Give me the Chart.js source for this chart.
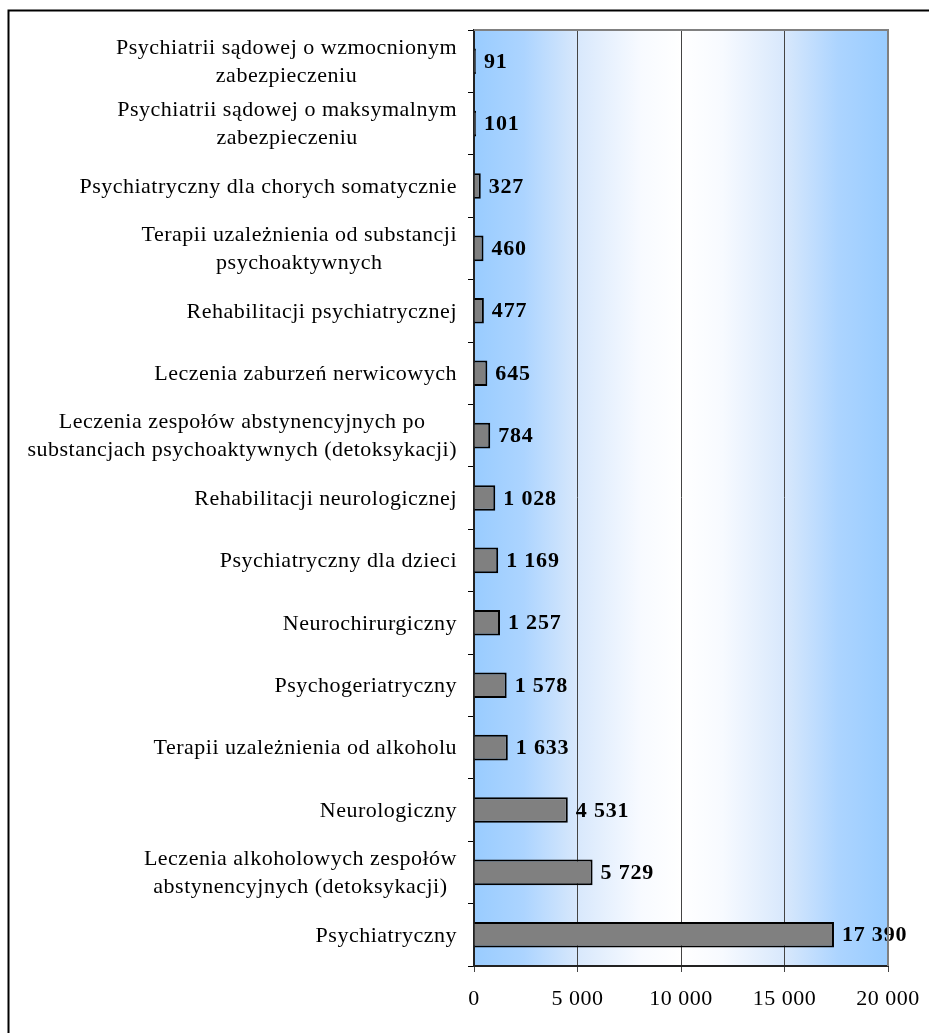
<!DOCTYPE html>
<html lang="pl">
<head>
<meta charset="utf-8">
<title>Oddziały - liczba łóżek</title>
<script src="https://cdn.jsdelivr.net/npm/chart.js@4/dist/chart.umd.min.js"></script>
<style>
    html, body { margin: 0; padding: 0; background: #fff; }
    canvas { display: block; }
</style>
</head>
<body>
<canvas id="oddzialyChart" width="929" height="1033"></canvas>
<script>
// kategorie (wiersze wieloliniowe jako tablice)
const categories = [
    ['Psychiatrii sądowej o wzmocnionym', 'zabezpieczeniu'],
    ['Psychiatrii sądowej o maksymalnym', 'zabezpieczeniu'],
    ['Psychiatryczny dla chorych somatycznie'],
    ['Terapii uzależnienia od substancji', 'psychoaktywnych'],
    ['Rehabilitacji psychiatrycznej'],
    ['Leczenia zaburzeń nerwicowych'],
    ['Leczenia zespołów abstynencyjnych po', 'substancjach psychoaktywnych (detoksykacji)'],
    ['Rehabilitacji neurologicznej'],
    ['Psychiatryczny dla dzieci'],
    ['Neurochirurgiczny'],
    ['Psychogeriatryczny'],
    ['Terapii uzależnienia od alkoholu'],
    ['Neurologiczny'],
    ['Leczenia alkoholowych zespołów', 'abstynencyjnych (detoksykacji)'],
    ['Psychiatryczny']
];
const values = [91, 101, 327, 460, 477, 645, 784, 1028, 1169, 1257, 1578, 1633, 4531, 5729, 17390];
const xTicks = [0, 5000, 10000, 15000, 20000];

const FONT = "'Liberation Serif', 'Times New Roman', serif";
const SPACING = '0.5px';

function formatNumber(v) {
    return String(v).replace(/\B(?=(\d{3})+(?!\d))/g, ' ');
}

const backgroundPlugin = {
    id: 'background',
    beforeDraw(chart) {
        const { ctx, chartArea: a, width, height } = chart;
        ctx.save();
        ctx.fillStyle = '#fff';
        ctx.fillRect(0, 0, width, height);
        ctx.strokeStyle = '#000';
        ctx.lineWidth = 2;
        ctx.strokeRect(8.5, 10.5, width + 20, height + 20);

        const g = ctx.createLinearGradient(a.left, 0, a.right, 0);
        g.addColorStop(0, '#99ccff');
        g.addColorStop(0.12, '#acd4ff');
        g.addColorStop(0.25, '#d8e8fc');
        g.addColorStop(0.4, '#f7faff');
        g.addColorStop(0.5, '#ffffff');
        g.addColorStop(0.6, '#f7faff');
        g.addColorStop(0.75, '#d8e8fc');
        g.addColorStop(0.88, '#acd4ff');
        g.addColorStop(1, '#99ccff');
        ctx.fillStyle = g;
        ctx.fillRect(a.left, a.top, a.right - a.left, a.bottom - a.top);
        ctx.restore();
        ctx.letterSpacing = SPACING;
    }
};

const labelsPlugin = {
    id: 'labels',
    afterDatasetsDraw(chart) {
        const { ctx } = chart;
        const meta = chart.getDatasetMeta(0);
        ctx.save();
        ctx.font = `bold 22px ${FONT}`;
        ctx.letterSpacing = '0.8px';
        ctx.fillStyle = '#000';
        ctx.textAlign = 'left';
        ctx.textBaseline = 'middle';
        meta.data.forEach((bar, i) => {
            ctx.fillText(formatNumber(values[i]), bar.x + 8, bar.y + 1);
        });
        ctx.restore();
    },
    afterDraw(chart) {
        const { ctx, chartArea: a } = chart;
        const yScale = chart.scales.y;

        // ramka obszaru wykresu (góra i prawa)
        ctx.save();
        ctx.strokeStyle = '#808080';
        ctx.lineWidth = 2;
        ctx.beginPath();
        ctx.moveTo(a.left, a.top);
        ctx.lineTo(a.right, a.top);
        ctx.lineTo(a.right, a.bottom);
        ctx.stroke();

        // etykiety kategorii: blok wyrównany do prawej, linie wyśrodkowane
        const right = a.left - 17;
        ctx.font = `22px ${FONT}`;
        ctx.letterSpacing = SPACING;
        ctx.fillStyle = '#000';
        ctx.textAlign = 'center';
        ctx.textBaseline = 'middle';
        categories.forEach((lines, i) => {
            const y = yScale.getPixelForTick(i) + 1;
            const widest = Math.max(...lines.map(l => ctx.measureText(l).width));
            const cx = right - widest / 2;
            lines.forEach((line, j) => {
                ctx.fillText(line, cx, y + (j - (lines.length - 1) / 2) * 28);
            });
        });
        ctx.restore();
    }
};

new Chart(document.getElementById('oddzialyChart'), {
    type: 'bar',
    data: {
        labels: categories,
        datasets: [{
            data: values,
            backgroundColor: '#808080',
            borderColor: '#000',
            borderWidth: 2,
            barPercentage: 0.41,
            categoryPercentage: 1
        }]
    },
    options: {
        indexAxis: 'y',
        responsive: false,
        animation: false,
        layout: {
            padding: { top: 30, right: 41, bottom: 0, left: 0 }
        },
        plugins: {
            legend: { display: false },
            tooltip: { enabled: false }
        },
        scales: {
            x: {
                min: 0,
                max: 20000,
                afterBuildTicks: scale => {
                    scale.ticks = xTicks.map(v => ({ value: v }));
                },
                afterFit: scale => {
                    scale.height = 67;
                    scale.paddingLeft = 0;
                    scale.paddingRight = 0;
                },
                ticks: {
                    color: '#000',
                    padding: 14,
                    maxRotation: 0,
                    font: { family: FONT, size: 22 },
                    callback: value => formatNumber(value)
                },
                grid: {
                    color: '#444',
                    lineWidth: 1,
                    tickLength: 6
                },
                border: { color: '#222', width: 2 }
            },
            y: {
                afterFit: scale => {
                    scale.width = 474;
                },
                ticks: { display: false },
                grid: {
                    drawOnChartArea: false,
                    color: '#000',
                    tickLength: 6
                },
                border: { color: '#222', width: 2 }
            }
        }
    },
    plugins: [backgroundPlugin, labelsPlugin]
});
</script>
</body>
</html>
